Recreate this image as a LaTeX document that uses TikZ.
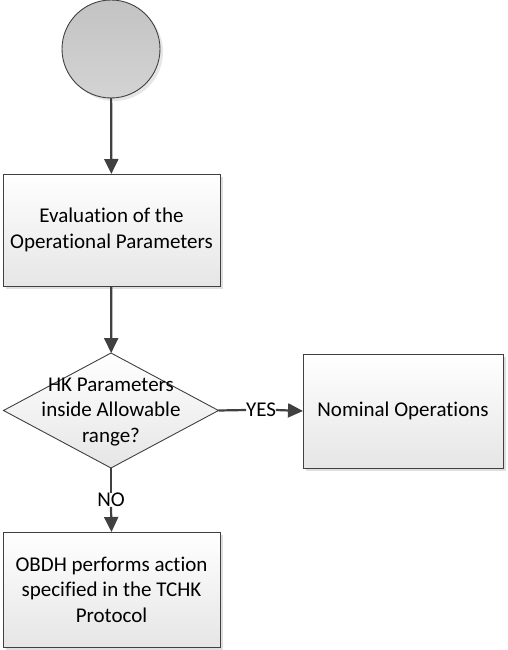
\documentclass[tikz,border=0pt]{standalone}
\usepackage{fontspec}
\setmainfont[Ligatures=NoCommon]{Carlito}
\usetikzlibrary{shapes.geometric,arrows.meta,shadows}
\definecolor{linegray}{HTML}{404040}
\definecolor{startgray}{HTML}{B8B8B8}
\begin{document}
\begin{tikzpicture}[x=1pt,y=-1pt,
  font=\fontsize{21}{25.5}\selectfont,
  every node/.style={inner sep=0pt, outer sep=0pt, align=center},
  flowbox/.style={draw=linegray, line width=0.9pt, rectangle,
    top color=white, bottom color=black!10,
    drop shadow={shadow xshift=3pt, shadow yshift=-3pt, opacity=0.25}},
  decision/.style={draw=linegray, line width=0.9pt, diamond, aspect=1.87,
    top color=white, bottom color=black!10},
  startnode/.style={draw=linegray, line width=0.9pt, circle,
    top color=startgray!85, bottom color=startgray!115!black,
    drop shadow={shadow xshift=3pt, shadow yshift=-3pt, opacity=0.2}},
  flow/.style={draw=linegray, line width=2.2pt,
    -{Triangle[length=15pt,width=14pt]}},
  plain/.style={draw=linegray, line width=2.2pt}]
\useasboundingbox (0,0) rectangle (507,650);

\node[startnode, minimum size=98pt] (start) at (111,49) {};
\node[flowbox, minimum width=217pt, minimum height=112pt] (eval) at (111.5,230)
  {Evaluation of the\\Operational Parameters};
\node[decision, minimum width=215pt, minimum height=115pt] (check) at (111,410.5) {};
\node (checktext) at (111,412) {HK Parameters\\inside Allowable\\range?};
\node[flowbox, minimum width=200pt, minimum height=114pt] (nominal) at (403,411)
  {Nominal Operations};
\node[flowbox, minimum width=217pt, minimum height=115pt] (obdh) at (111.5,589.5)
  {OBDH performs action\\specified in the TCHK\\Protocol};

\node (yes) at (261,410) {YES};
\node (no) at (111,500) {NO};

\draw[flow] (start) -- (eval);
\draw[flow] (eval) -- (check);
\draw[plain] (check.east) -- (yes.west);
\draw[flow] (yes.east) -- (nominal.west);
\draw[plain] (check.south) -- (no.north);
\draw[flow] (no.south) -- (obdh.north);
\end{tikzpicture}
\end{document}
